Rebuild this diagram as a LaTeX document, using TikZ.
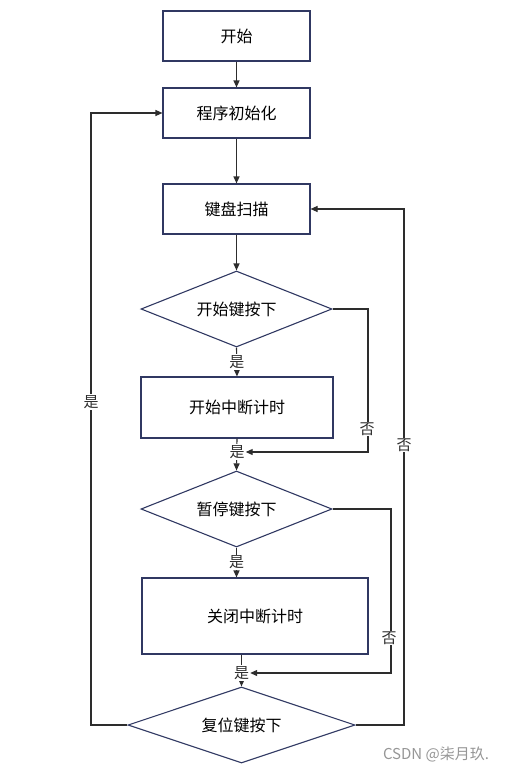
\documentclass[tikz,border=0pt]{standalone}
\usepackage{fontspec}
\setmainfont{Noto Sans CJK SC}
\usetikzlibrary{shapes.geometric,arrows.meta}
\definecolor{boxc}{RGB}{48,56,98}
\definecolor{linec}{RGB}{45,45,45}
\definecolor{wm}{RGB}{150,150,150}
\tikzset{
  stepbox/.style={draw=boxc,line width=1.1pt,rectangle,inner sep=0pt,font=\fontsize{16}{18}\selectfont},
  decide/.style={draw=boxc,line width=1.1pt,diamond,aspect=2.5,inner sep=0pt,font=\fontsize{16}{18}\selectfont},
  conn/.style={draw=linec,line width=1.1pt},
  arr/.style={conn,-{Triangle[length=7pt,width=6pt]}},
  lbl/.style={fill=white,inner sep=1pt,font=\fontsize{15}{17}\selectfont,text=linec}
}
\begin{document}
\begin{tikzpicture}[x=1pt,y=-1pt]
\useasboundingbox (0,0) rectangle (507,772);
\node[stepbox,minimum width=147pt,minimum height=50pt] (start) at (236.5,36) {开始};
\node[stepbox,minimum width=147pt,minimum height=50pt] (init) at (236.5,113) {程序初始化};
\node[stepbox,minimum width=147pt,minimum height=50pt] (scan) at (236.5,209) {键盘扫描};
\node[decide,minimum width=191pt,minimum height=76pt] (d1) at (236.5,309) {开始键按下};
\node[stepbox,minimum width=192pt,minimum height=61pt] (b1) at (237,407.5) {开始中断计时};
\node[decide,minimum width=191pt,minimum height=76pt] (d2) at (236.5,509) {暂停键按下};
\node[stepbox,minimum width=226pt,minimum height=76pt] (b2) at (255,616) {关闭中断计时};
\node[decide,minimum width=227pt,minimum height=76pt] (d3) at (241.5,725) {复位键按下};

\draw[arr] (start) -- (init);
\draw[arr] (init) -- (scan);
\draw[arr] (scan) -- (d1);
\draw[arr] (d1.south) -- (b1.north) node[lbl,midway] (y1) {是};
\coordinate (j1) at (237,452);
\draw[arr] (b1.south) -- (d2.north);
\node[lbl] (y2) at (j1) {是};
\draw[arr] (d1.east) -| (368,452) -- (y2.east);
\node[lbl] (n1) at (367,429) {否};
\draw[arr] (d2.south) -- (d2.south |- b2.north) node[lbl,midway] (y3) {是};
\draw[arr] (d3.north |- b2.south) -- (d3.north);
\node[lbl] (y4) at (241.5,673) {是};
\draw[arr] (d2.east) -| (391,673) -- (y4.east);
\node[lbl] (n2) at (389,638) {否};
\draw[arr] (d3.west) -| (91,113) -- (init.west);
\node[lbl] (y5) at (91,402) {是};
\draw[arr] (d3.east) -| (404,209) -- (scan.east);
\node[lbl] (n3) at (404,445) {否};
\node[text=wm,font=\fontsize{15}{17}\selectfont,inner sep=0pt] (wmk) at (436,754) {CSDN @柒月玖.};
\end{tikzpicture}
\end{document}
